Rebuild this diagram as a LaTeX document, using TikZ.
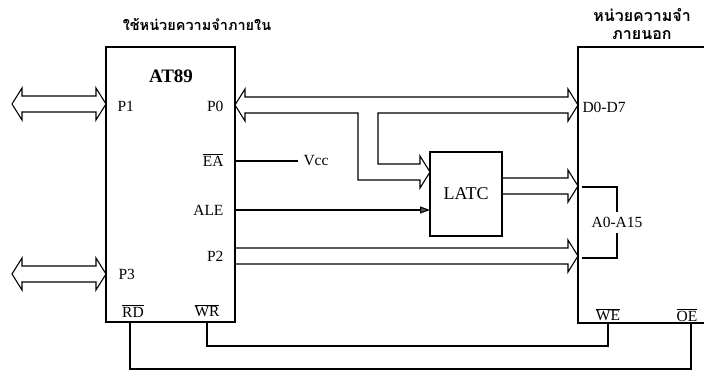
\documentclass[tikz,border=0pt]{standalone}
\usepackage{fontspec}
\setmainfont{Liberation Serif}
\newfontfamily\thaifont[Script=Thai]{Loma}
\usetikzlibrary{arrows.meta}
\begin{document}
\begin{tikzpicture}[x=1pt,y=-1pt,line width=1.1pt,line join=miter,
  box/.style={draw,line width=1.2pt,inner sep=0pt,outer sep=0pt,anchor=north west},
  lbl/.style={font=\fontsize{15.5}{17}\selectfont,inner sep=0pt},
  big/.style={font=\fontsize{18}{20}\selectfont,inner sep=0pt},
  ttl/.style={font=\thaifont\bfseries\fontsize{14.5}{17.5}\selectfont,inner sep=0pt,align=center},
  bus/.style={draw,line width=1.1pt}]
\useasboundingbox (0,0) rectangle (704,376);

% boxes
\node[box,minimum width=129pt,minimum height=275pt] (cpu) at (106,47) {};
\node[box,minimum width=72pt,minimum height=84pt] (latc) at (430,152) {};
\draw[line width=1.2pt] (704,47) -- (578,47) -- (578,323) -- (704,323);
\coordinate (memNW) at (578,47);

% titles
\node[ttl] (t1) at (197,24) {ใช้หน่วยความจำภายใน};
\node[ttl,font=\thaifont\bfseries\fontsize{16}{18}\selectfont] (t2) at (642,24) {หน่วยความจำ\\ภายนอก};

% cpu labels
\node[inner sep=0pt,font=\bfseries\fontsize{19}{21}\selectfont] (at89) at (171,76) {AT89};
\node[lbl,anchor=west] (p1) at (117,106) {P1};
\node[lbl,anchor=east] (p0) at (224,106) {P0};
\node[lbl,anchor=east] (ea) at (224,160) {$\overline{\mbox{EA}}$};
\node[lbl,anchor=east] (ale) at (224,210) {ALE};
\node[lbl,anchor=east] (p2) at (224,256) {P2};
\node[lbl,anchor=west] (p3) at (118,274) {P3};
\node[lbl] (rd) at (133,311) {$\overline{\mbox{RD}}$};
\node[lbl] (wr) at (207,311) {$\overline{\mbox{WR}}$};

% latch / memory labels
\node[big] (latcl) at (latc.center) {LATC};
\node[lbl,anchor=west] (d07) at (582,107) {D0-D7};
\node[lbl] (a015) at (617,222) {A0-A15};
\node[lbl] (we) at (608,315) {$\overline{\mbox{WE}}$};
\node[lbl] (oe) at (687,315) {$\overline{\mbox{OE}}$};
\node[lbl,anchor=west] (vcc) at (303,161) {Vcc};

% P1 bus (double headed)
\draw[bus] (22,96)--(96,96)--(96,88)--(106,104)--(96,120)--(96,112)--(22,112)--(22,120)--(12,104)--(22,88)--cycle;
% P3 bus (double headed)
\draw[bus] (22,266)--(96,266)--(96,258)--(106,274)--(96,290)--(96,282)--(22,282)--(22,290)--(12,274)--(22,258)--cycle;

% P0 <-> D0-D7 with branch to LATC
\draw[bus] (245,97)--(568,97)--(568,89)--(578,105)--(568,121)--(568,113)--(378,113)--(378,164)--(420,164)--(420,156)--(430,172)--(420,188)--(420,180)--(358,180)--(358,113)--(245,113)--(245,121)--(235,105)--(245,89)--cycle;

% LATC -> memory
\draw[bus] (502,178)--(568,178)--(568,170)--(578,186)--(568,202)--(568,194)--(502,194);

% P2 -> memory
\draw[bus] (235,248)--(568,248)--(568,240)--(578,256)--(568,272)--(568,264)--(235,264);

% EA -> Vcc
\draw (235,161) -- (298,161);
% ALE -> LATC
\draw[-{Triangle[length=10pt,width=7pt,fill=black!65]}] (235,210) -- (latc.west |- 0,210);

% A0-A15 bracket
\draw (582,187) -- (617,187) -- (617,212);
\draw (617,233) -- (617,258) -- (582,258);

% RD / WR control lines
\draw (130,322) -- (130,369) -- (691,369) -- (691,323);
\draw (207,322) -- (207,346) -- (608,346) -- (608,323);
\end{tikzpicture}
\end{document}
